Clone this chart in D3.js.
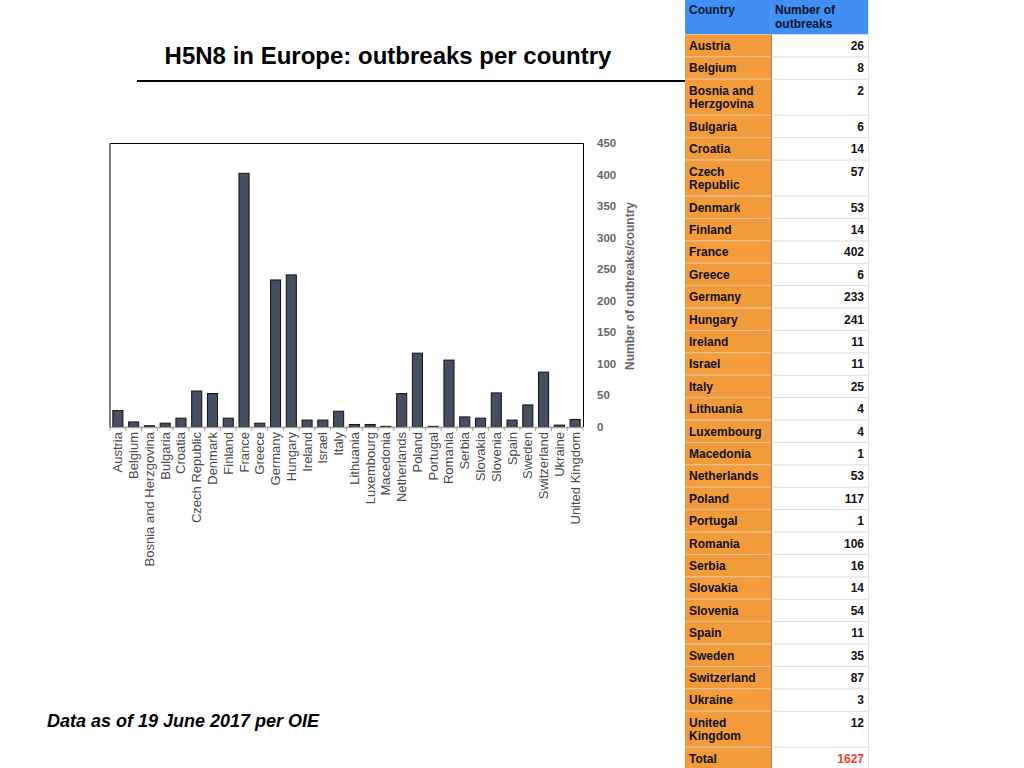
<!DOCTYPE html>
<html>
<head>
<meta charset="utf-8">
<script src="https://d3js.org/d3.v7.min.js"></script>
<style>
  body { margin: 0; background: #fff; }
  text { font-family: "Liberation Sans", Arial, Helvetica, sans-serif; }
</style>
</head>
<body>
<script>
// data
var countries = ["Austria", "Belgium", "Bosnia and Herzgovina", "Bulgaria", "Croatia", "Czech Republic",
  "Denmark", "Finland", "France", "Greece", "Germany", "Hungary", "Ireland", "Israel", "Italy",
  "Lithuania", "Luxembourg", "Macedonia", "Netherlands", "Poland", "Portugal", "Romania", "Serbia",
  "Slovakia", "Slovenia", "Spain", "Sweden", "Switzerland", "Ukraine", "United Kingdom"];
var outbreaks = [26, 8, 2, 6, 14, 57, 53, 14, 402, 6, 233, 241, 11, 11, 25, 4, 4, 1, 53, 117, 1, 106,
  16, 14, 54, 11, 35, 87, 3, 12];
var yTicks = [0, 50, 100, 150, 200, 250, 300, 350, 400, 450];
var headers = ["Country", "Number of outbreaks"];
var totalLabel = "Total";

var w = 1024, h = 768;

var svg = d3.select("body").append("svg")
  .attr("width", w)
  .attr("height", h);

// title + rule
svg.append("text")
  .attr("x", 388).attr("y", 64)
  .attr("text-anchor", "middle")
  .attr("font-size", 24).attr("font-weight", "bold")
  .attr("fill", "#000")
  .text("H5N8 in Europe: outbreaks per country");
svg.append("line")
  .attr("x1", 137).attr("x2", 686).attr("y1", 81).attr("y2", 81)
  .attr("stroke", "#000").attr("stroke-width", 2);

// chart
var pLeft = 110, pRight = 583, pTop = 143, pBottom = 427;

var xScale = d3.scaleBand()
  .domain(countries)
  .range([pLeft, pRight])
  .paddingInner(0.36)
  .paddingOuter(0.18);

var yScale = d3.scaleLinear()
  .domain([0, 450])
  .range([pBottom, pTop]);

// frame (top, left, right)
svg.append("path")
  .attr("d", "M" + pLeft + "," + pBottom + "V" + (pTop + 0.5) + "H" + (pRight + 0.5) + "V" + pBottom)
  .attr("fill", "none").attr("stroke", "#000").attr("stroke-width", 1);

svg.selectAll("rect.bar")
  .data(outbreaks)
  .enter().append("rect")
  .attr("class", "bar")
  .attr("x", function(d, i) { return xScale(countries[i]); })
  .attr("width", xScale.bandwidth())
  .attr("y", function(d) { return yScale(d); })
  .attr("height", function(d) { return pBottom - yScale(d); })
  .attr("fill", "#454f61")
  .attr("stroke", "#111")
  .attr("stroke-width", 1);

// x axis: gray baseline with ticks between categories
var step = xScale.step();
var xAxis = svg.append("g");
xAxis.append("line")
  .attr("x1", pLeft).attr("x2", pRight).attr("y1", pBottom + 0.5).attr("y2", pBottom + 0.5)
  .attr("stroke", "#a0a0a0").attr("stroke-width", 1.5);
xAxis.selectAll("line.tick")
  .data(d3.range(countries.length + 1))
  .enter().append("line")
  .attr("class", "tick")
  .attr("x1", function(i) { return pLeft + i * step; })
  .attr("x2", function(i) { return pLeft + i * step; })
  .attr("y1", pBottom).attr("y2", pBottom + 4)
  .attr("stroke", "#a0a0a0").attr("stroke-width", 1);
xAxis.selectAll("text")
  .data(countries)
  .enter().append("text")
  .attr("transform", function(d) {
    return "translate(" + (xScale(d) + xScale.bandwidth() / 2 + 4.5) + "," + (pBottom + 5) + ") rotate(-90)";
  })
  .attr("text-anchor", "end")
  .attr("font-size", 13)
  .attr("fill", "#4a4a4a")
  .text(function(d) { return d; });

// y axis on the right
svg.selectAll("text.ytick")
  .data(yTicks)
  .enter().append("text")
  .attr("class", "ytick")
  .attr("x", 597)
  .attr("y", function(d) { return yScale(d) + 4; })
  .attr("font-size", 11.5).attr("font-weight", "bold")
  .attr("fill", "#666")
  .text(function(d) { return d; });

svg.append("text")
  .attr("transform", "translate(634,286) rotate(-90)")
  .attr("text-anchor", "middle")
  .attr("font-size", 12).attr("font-weight", "bold")
  .attr("fill", "#666")
  .text("Number of outbreaks/country");

// footnote
svg.append("text")
  .attr("x", 47).attr("y", 727)
  .attr("font-size", 18).attr("font-weight", "bold").attr("font-style", "italic")
  .attr("fill", "#000")
  .text("Data as of 19 June 2017 per OIE");

// table on the right
var tx0 = 685, tx1 = 771, tx2 = 868;
var headH = 34, rowH = 22.4, lineH = 13.6;
var table = svg.append("g");

function wrapWords(str, maxW) {
  var probe = table.append("text").attr("font-size", 12).attr("font-weight", "bold");
  var words = str.split(" "), lines = [], cur = "";
  words.forEach(function(wd) {
    var t = cur ? cur + " " + wd : wd;
    probe.text(t);
    if (probe.node().getComputedTextLength() > maxW && cur) {
      lines.push(cur); cur = wd;
    } else cur = t;
  });
  lines.push(cur);
  probe.remove();
  return lines;
}

var rows = countries.map(function(c, i) {
  return { name: c, value: outbreaks[i], lines: wrapWords(c, tx1 - tx0 - 8) };
});
rows.push({ name: totalLabel, value: d3.sum(outbreaks), lines: [totalLabel], total: true });

var y = headH;
rows.forEach(function(r) {
  r.y = y;
  r.h = rowH + (r.lines.length - 1) * lineH;
  y += r.h;
});

// header
table.append("rect").attr("x", tx0).attr("y", 0).attr("width", tx2 - tx0).attr("height", headH)
  .attr("fill", "#3f8ff5");
table.append("line").attr("x1", tx1).attr("x2", tx1).attr("y1", 0).attr("y2", headH)
  .attr("stroke", "#5a9cf0");
table.append("text").attr("x", tx0 + 4).attr("y", 14)
  .attr("font-size", 12).attr("font-weight", "bold").attr("fill", "#0d1526")
  .text(headers[0]);
var hd = table.append("text").attr("x", tx1 + 4).attr("y", 14)
  .attr("font-size", 12).attr("font-weight", "bold").attr("fill", "#0d1526");
hd.append("tspan").attr("x", tx1 + 4).text("Number of");
hd.append("tspan").attr("x", tx1 + 4).attr("dy", lineH).text("outbreaks");

var rg = table.selectAll("g.row")
  .data(rows)
  .enter().append("g")
  .attr("class", "row");

rg.append("rect")
  .attr("x", tx0).attr("y", function(d) { return d.y; })
  .attr("width", tx1 - tx0).attr("height", function(d) { return d.h; })
  .attr("fill", "#f19b3b");
rg.append("rect")
  .attr("x", tx1).attr("y", function(d) { return d.y; })
  .attr("width", tx2 - tx1).attr("height", function(d) { return d.h; })
  .attr("fill", "#fff");
rg.append("line")
  .attr("x1", tx0).attr("x2", tx1)
  .attr("y1", function(d) { return d.y + 0.5; }).attr("y2", function(d) { return d.y + 0.5; })
  .attr("stroke", "#e2c49a").attr("stroke-width", 1);
rg.append("line")
  .attr("x1", tx1).attr("x2", tx2)
  .attr("y1", function(d) { return d.y + 0.5; }).attr("y2", function(d) { return d.y + 0.5; })
  .attr("stroke", "#dcdcdc").attr("stroke-width", 1);

rg.append("text")
  .attr("x", tx0 + 4)
  .attr("y", function(d) { return d.y + 16; })
  .attr("font-size", 12).attr("font-weight", "bold").attr("fill", "#111")
  .each(function(d) {
    var t = d3.select(this);
    d.lines.forEach(function(l, k) {
      t.append("tspan").attr("x", tx0 + 4).attr("dy", k === 0 ? 0 : lineH).text(l);
    });
  });
rg.append("text")
  .attr("x", tx2 - 4)
  .attr("y", function(d) { return d.y + 16; })
  .attr("text-anchor", "end")
  .attr("font-size", 12).attr("font-weight", "bold")
  .attr("fill", function(d) { return d.total ? "#e8432d" : "#111"; })
  .text(function(d) { return d.value; });

// column divider and outer edges
table.append("line").attr("x1", tx1 + 0.5).attr("x2", tx1 + 0.5).attr("y1", headH).attr("y2", h)
  .attr("stroke", "#9a8a78").attr("stroke-width", 1);
table.append("line").attr("x1", tx2 + 0.5).attr("x2", tx2 + 0.5).attr("y1", 0).attr("y2", h)
  .attr("stroke", "#e4e4e4").attr("stroke-width", 1);
</script>
</body>
</html>
